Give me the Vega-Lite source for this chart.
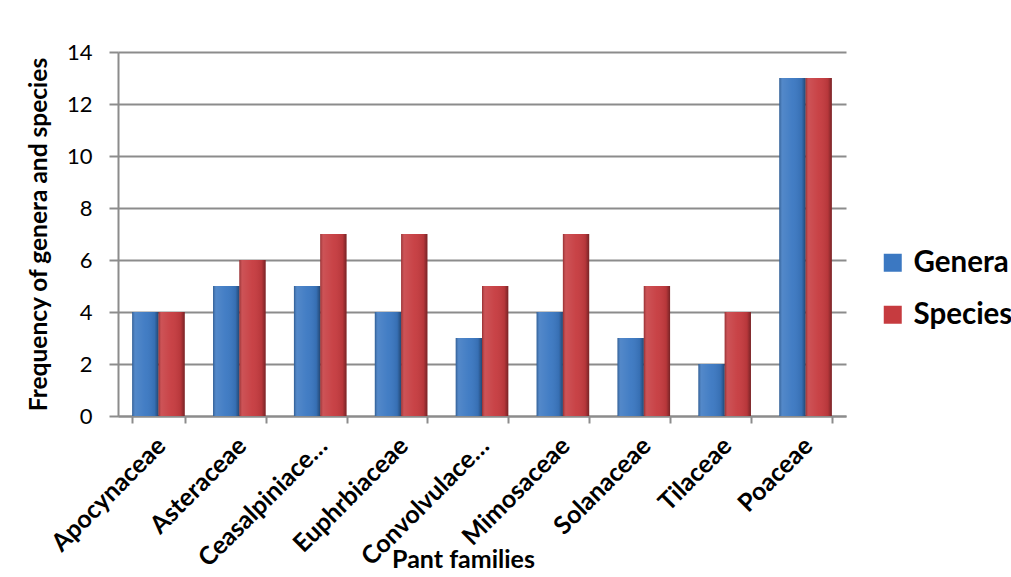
{
  "$schema": "https://vega.github.io/schema/vega-lite/v6.json",
  "autosize": {"type": "none"},
  "width": 728,
  "height": 364,
  "padding": {"left": 118, "top": 52, "right": 165, "bottom": 161},
  "background": "white",
  "config": {
    "view": {"stroke": null},
    "font": "Lato",
    "axis": {"labelFont": "Lato", "titleFont": "Lato", "labelColor": "#000", "titleColor": "#000"}
  },
  "data": {
    "values": [
      {"family": "Apocynaceae", "series": "Genera", "value": 4},
      {"family": "Apocynaceae", "series": "Species", "value": 4},
      {"family": "Asteraceae", "series": "Genera", "value": 5},
      {"family": "Asteraceae", "series": "Species", "value": 6},
      {"family": "Ceasalpiniace…", "series": "Genera", "value": 5},
      {"family": "Ceasalpiniace…", "series": "Species", "value": 7},
      {"family": "Euphrbiaceae", "series": "Genera", "value": 4},
      {"family": "Euphrbiaceae", "series": "Species", "value": 7},
      {"family": "Convolvulace…", "series": "Genera", "value": 3},
      {"family": "Convolvulace…", "series": "Species", "value": 5},
      {"family": "Mimosaceae", "series": "Genera", "value": 4},
      {"family": "Mimosaceae", "series": "Species", "value": 7},
      {"family": "Solanaceae", "series": "Genera", "value": 3},
      {"family": "Solanaceae", "series": "Species", "value": 5},
      {"family": "Tilaceae", "series": "Genera", "value": 2},
      {"family": "Tilaceae", "series": "Species", "value": 4},
      {"family": "Poaceae", "series": "Genera", "value": 13},
      {"family": "Poaceae", "series": "Species", "value": 13}
    ]
  },
  "encoding": {
    "x": {
      "field": "family", "type": "nominal", "sort": null,
      "scale": {"paddingInner": 0.35, "paddingOuter": 0.175},
      "axis": {
        "title": "Pant families", "titleFontSize": 25, "titleFontWeight": "bold",
        "titleX": 345, "titleY": 151, "titleBaseline": "alphabetic",
        "labelAngle": -45, "labelFontSize": 25, "labelFontWeight": "bold",
        "labelPadding": 10, "labelOffset": -6, "tickBand": "extent", "tickSize": 7,
        "tickColor": "#8c8c8c", "tickWidth": 2, "domainColor": "#8c8c8c", "domainWidth": 2,
        "grid": false, "labelOverlap": false
      }
    },
    "xOffset": {"field": "series", "type": "nominal"},
    "y": {
      "field": "value", "type": "quantitative",
      "scale": {"domain": [0, 14], "nice": false},
      "axis": {
        "title": "Frequency of genera and species", "titleFontSize": 24.5, "titleFontWeight": "bold",
        "titlePadding": 15,
        "values": [0, 2, 4, 6, 8, 10, 12, 14], "labelFontSize": 22, "labelPadding": 17,
        "tickSize": 9, "tickColor": "#8c8c8c", "tickWidth": 2,
        "domainColor": "#8c8c8c", "domainWidth": 2,
        "grid": true, "gridColor": "#8c8c8c", "gridWidth": 2
      }
    }
  },
  "layer": [
    {
      "mark": {"type": "bar"},
      "encoding": {
        "color": {
          "field": "series", "type": "nominal",
          "scale": {"domain": ["Genera", "Species"], "range": ["#3b78c2", "#c63b3f"]},
          "legend": {
            "title": null, "orient": "none", "legendX": 760, "legendY": 196,
            "symbolType": "square", "symbolSize": 324, "symbolStrokeWidth": 0,
            "labelFontSize": 29.5, "labelFontWeight": "bold", "labelFont": "Lato", "labelColor": "#000",
            "rowPadding": 21, "labelOffset": 6
          }
        }
      }
    },
    {
      "mark": {
        "type": "bar",
        "fill": {
          "gradient": "linear", "x1": 0, "y1": 0, "x2": 1, "y2": 0,
          "stops": [
            {"offset": 0, "color": "rgba(0,0,0,0.25)"},
            {"offset": 0.12, "color": "rgba(255,255,255,0.12)"},
            {"offset": 0.5, "color": "rgba(255,255,255,0.04)"},
            {"offset": 0.85, "color": "rgba(0,0,0,0.08)"},
            {"offset": 1, "color": "rgba(0,0,0,0.4)"}
          ]
        }
      }
    }
  ]
}
